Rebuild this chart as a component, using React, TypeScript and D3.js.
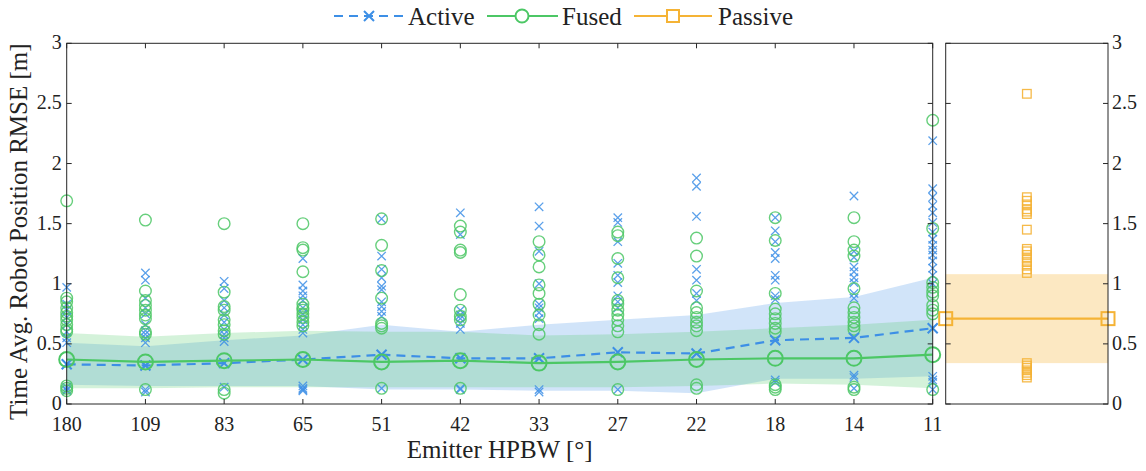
import React from "react";
import * as d3 from "d3";

// emitter half-power beam widths (x categories)
const hpbw = ["180", "109", "83", "65", "51", "42", "33", "27", "22", "18", "14", "11"];

const activeMean = [0.33, 0.32, 0.34, 0.37, 0.41, 0.38, 0.38, 0.43, 0.42, 0.53, 0.55, 0.63];
const fusedMean = [0.37, 0.35, 0.36, 0.37, 0.35, 0.36, 0.34, 0.35, 0.37, 0.38, 0.38, 0.41];

const activeUpper = [0.51, 0.48, 0.53, 0.57, 0.66, 0.60, 0.66, 0.70, 0.74, 0.84, 0.89, 1.05];
const activeLower = [0.16, 0.15, 0.15, 0.15, 0.12, 0.12, 0.11, 0.11, 0.09, 0.21, 0.21, 0.23];
const fusedUpper = [0.59, 0.56, 0.59, 0.61, 0.60, 0.60, 0.57, 0.58, 0.60, 0.63, 0.66, 0.70];
const fusedLower = [0.13, 0.13, 0.14, 0.14, 0.14, 0.14, 0.14, 0.14, 0.15, 0.17, 0.16, 0.13];

// per-run RMSE values, one list per HPBW
const activeRuns = [
  [0.97, 0.83, 0.78, 0.72, 0.66, 0.60, 0.55, 0.51, 0.14, 0.12, 0.11],
  [1.09, 1.03, 0.88, 0.80, 0.75, 0.66, 0.61, 0.58, 0.55, 0.51, 0.12, 0.10],
  [1.02, 0.96, 0.86, 0.80, 0.74, 0.68, 0.62, 0.58, 0.55, 0.52, 0.14],
  [1.21, 0.99, 0.94, 0.90, 0.86, 0.80, 0.75, 0.70, 0.66, 0.62, 0.59, 0.15, 0.13, 0.12, 0.11],
  [1.54, 1.23, 1.12, 1.05, 0.98, 0.95, 0.85, 0.81, 0.77, 0.73, 0.13],
  [1.59, 1.41, 0.78, 0.74, 0.71, 0.67, 0.62, 0.13, 0.12],
  [1.64, 1.48, 1.27, 1.00, 0.83, 0.80, 0.76, 0.71, 0.12, 0.10],
  [1.55, 1.51, 1.35, 1.17, 1.07, 1.01, 0.90, 0.85, 0.80, 0.12],
  [1.88, 1.81, 1.56, 1.12, 1.03, 0.92, 0.86],
  [1.55, 1.44, 1.35, 1.26, 1.21, 1.07, 1.03, 0.90, 0.87, 0.20, 0.18],
  [1.73, 1.27, 1.22, 1.14, 1.10, 1.05, 1.01, 0.92, 0.88, 0.24, 0.22, 0.13],
  [2.19, 1.79, 1.72, 1.65, 1.59, 1.51, 1.43, 1.37, 1.32, 1.28, 1.24, 1.19, 1.13, 1.07, 1.00, 0.23, 0.20, 0.18, 0.12],
];

const fusedRuns = [
  [1.69, 0.88, 0.85, 0.80, 0.76, 0.73, 0.70, 0.66, 0.62, 0.60, 0.15, 0.13, 0.11],
  [1.53, 0.94, 0.86, 0.82, 0.78, 0.74, 0.71, 0.60, 0.58, 0.12],
  [1.50, 0.93, 0.81, 0.78, 0.70, 0.66, 0.61, 0.58, 0.12, 0.09],
  [1.50, 1.30, 1.28, 1.10, 0.83, 0.80, 0.78, 0.75, 0.72, 0.68, 0.65],
  [1.54, 1.32, 1.11, 0.88, 0.67, 0.65, 0.63, 0.13],
  [1.48, 1.43, 1.28, 1.26, 0.91, 0.78, 0.73, 0.70, 0.13],
  [1.35, 1.24, 1.14, 0.99, 0.92, 0.83, 0.74, 0.66, 0.58],
  [1.43, 1.40, 1.21, 1.05, 0.86, 0.83, 0.78, 0.74, 0.70, 0.65, 0.60, 0.12],
  [1.38, 1.23, 0.94, 0.80, 0.76, 0.72, 0.68, 0.65, 0.61, 0.16, 0.13],
  [1.55, 1.36, 0.92, 0.79, 0.75, 0.71, 0.67, 0.63, 0.60, 0.16, 0.14, 0.12],
  [1.55, 1.35, 1.28, 1.23, 0.96, 0.80, 0.76, 0.72, 0.68, 0.65, 0.62, 0.14, 0.12],
  [2.36, 1.46, 1.01, 0.97, 0.93, 0.90, 0.82, 0.78, 0.75, 0.12],
];

const passiveMean = 0.71;
const passiveBand = [0.34, 1.08];
const passiveRuns = [2.58, 1.72, 1.69, 1.66, 1.62, 1.60, 1.58, 1.45, 1.29, 1.27, 1.24, 1.21, 1.18, 1.15, 1.12, 1.09,
  0.34, 0.32, 0.30, 0.28, 0.26, 0.24, 0.22];

const yTicks = [0, 0.5, 1, 1.5, 2, 2.5, 3];
const yTickLabels = ["0", "0.5", "1", "1.5", "2", "2.5", "3"];

const BLUE = "#3d8fe6";
const GREEN = "#4cc765";
const ORANGE = "#f5b335";
const AXIS = "#262626";
const FONT = '"Liberation Serif", "Times New Roman", Times, serif';

function Cross({ x, y, s, w, color, op = 1 }: any) {
  return (
    <path d={`M${x - s},${y - s}L${x + s},${y + s}M${x - s},${y + s}L${x + s},${y - s}`}
      stroke={color} strokeWidth={w} opacity={op} fill="none" />
  );
}

export default function App() {
  const top = 43.3, bottom = 404;
  const left = 66.7, right = 932.7;
  const pLeft = 945.7, pRight = 1108;
  const tick = 5;

  const x = d3.scalePoint<string>().domain(hpbw).range([left, right]).padding(0);
  const y = d3.scaleLinear().domain([0, 3]).range([bottom, top]);
  const xp = d3.scaleLinear().domain([0, 1]).range([pLeft, pRight]);

  const area = (lo: number[], hi: number[]) =>
    d3.area<number>().x((_, i) => x(hpbw[i])!).y0((_, i) => y(lo[i])).y1((d) => y(d))(hi) || "";
  const line = (vals: number[]) =>
    d3.line<number>().x((_, i) => x(hpbw[i])!).y((d) => y(d))(vals) || "";

  return (
    <svg width={1146} height={471}
      style={{ position: "absolute", left: 0, top: 0, background: "#fff", fontFamily: FONT }}>
      {/* bands */}
      <path d={area(activeLower, activeUpper)} fill={BLUE} fillOpacity={0.24} />
      <path d={area(fusedLower, fusedUpper)} fill={GREEN} fillOpacity={0.24} />
      <rect x={pLeft} y={y(passiveBand[1])} width={pRight - pLeft} height={y(passiveBand[0]) - y(passiveBand[1])}
        fill={ORANGE} fillOpacity={0.3} />

      {/* scatter */}
      {activeRuns.map((runs, i) => runs.map((v, j) => (
        <Cross key={`a${i}-${j}`} x={x(hpbw[i])} y={y(v)} s={4.2} w={1.3} color={BLUE} op={0.85} />
      )))}
      {fusedRuns.map((runs, i) => runs.map((v, j) => (
        <circle key={`f${i}-${j}`} cx={x(hpbw[i])} cy={y(v)} r={5.8} fill="none" stroke={GREEN}
          strokeWidth={1.4} opacity={0.85} />
      )))}
      {passiveRuns.map((v, j) => (
        <rect key={`p${j}`} x={xp(0.5) - 4.3} y={y(v) - 4.3} width={8.6} height={8.6} fill="none"
          stroke={ORANGE} strokeWidth={1.3} opacity={0.9} />
      ))}

      {/* mean lines */}
      <path d={line(activeMean)} fill="none" stroke={BLUE} strokeWidth={2.2} strokeDasharray="9,6" />
      {activeMean.map((v, i) => (
        <Cross key={`am${i}`} x={x(hpbw[i])} y={y(v)} s={5} w={2} color={BLUE} />
      ))}
      <path d={line(fusedMean)} fill="none" stroke={GREEN} strokeWidth={2.2} />
      {fusedMean.map((v, i) => (
        <circle key={`fm${i}`} cx={x(hpbw[i])} cy={y(v)} r={7.5} fill="none" stroke={GREEN} strokeWidth={2} />
      ))}
      <line x1={xp(0)} x2={xp(1)} y1={y(passiveMean)} y2={y(passiveMean)} stroke={ORANGE} strokeWidth={2.2} />
      {[0, 1].map((t) => (
        <rect key={`pm${t}`} x={xp(t) - 6.5} y={y(passiveMean) - 6.5} width={13} height={13} fill="none"
          stroke={ORANGE} strokeWidth={2} />
      ))}

      {/* left panel axes */}
      <rect x={left} y={top} width={right - left} height={bottom - top} fill="none" stroke={AXIS} strokeWidth={1} />
      {hpbw.map((h) => (
        <g key={`xt${h}`}>
          <line x1={x(h)} x2={x(h)} y1={bottom} y2={bottom - tick} stroke={AXIS} />
          <line x1={x(h)} x2={x(h)} y1={top} y2={top + tick} stroke={AXIS} />
          <text x={x(h)} y={431} fontSize={20} textAnchor="middle" fill="#222">{h}</text>
        </g>
      ))}
      {yTicks.map((t, i) => (
        <g key={`yt${t}`}>
          <line x1={left} x2={left + tick} y1={y(t)} y2={y(t)} stroke={AXIS} />
          <line x1={right} x2={right - tick} y1={y(t)} y2={y(t)} stroke={AXIS} />
          <text x={left - 5} y={y(t) + 6} fontSize={20} textAnchor="end" fill="#222">{yTickLabels[i]}</text>
        </g>
      ))}

      {/* right panel axes */}
      <rect x={pLeft} y={top} width={pRight - pLeft} height={bottom - top} fill="none" stroke={AXIS} strokeWidth={1} />
      {yTicks.map((t, i) => (
        <g key={`ryt${t}`}>
          <line x1={pLeft} x2={pLeft + tick} y1={y(t)} y2={y(t)} stroke={AXIS} />
          <line x1={pRight} x2={pRight - tick} y1={y(t)} y2={y(t)} stroke={AXIS} />
          <text x={pRight + 4} y={y(t) + 6} fontSize={20} textAnchor="start" fill="#222">{yTickLabels[i]}</text>
        </g>
      ))}

      {/* titles */}
      <text x={(left + right) / 2} y={458} fontSize={25} textAnchor="middle" fill="#222">Emitter HPBW [°]</text>
      <text transform={`translate(27,${(top + bottom) / 2 + 8}) rotate(-90)`} fontSize={25} textAnchor="middle"
        fill="#222">Time Avg. Robot Position RMSE [m]</text>

      {/* legend */}
      <g>
        <line x1={334} x2={404} y1={16} y2={16} stroke={BLUE} strokeWidth={2.2} strokeDasharray="9,6" />
        <Cross x={369} y={16} s={5} w={2} color={BLUE} />
        <text x={408} y={25} fontSize={25} fill="#222">Active</text>
        <line x1={487} x2={558} y1={16} y2={16} stroke={GREEN} strokeWidth={2.2} />
        <circle cx={522} cy={16} r={6.5} fill="#fff" stroke={GREEN} strokeWidth={2} />
        <text x={562} y={25} fontSize={25} fill="#222">Fused</text>
        <line x1={634} x2={712} y1={16} y2={16} stroke={ORANGE} strokeWidth={2.2} />
        <rect x={667} y={10} width={12} height={12} fill="#fff" stroke={ORANGE} strokeWidth={2} />
        <text x={718} y={25} fontSize={25} fill="#222">Passive</text>
      </g>
    </svg>
  );
}
